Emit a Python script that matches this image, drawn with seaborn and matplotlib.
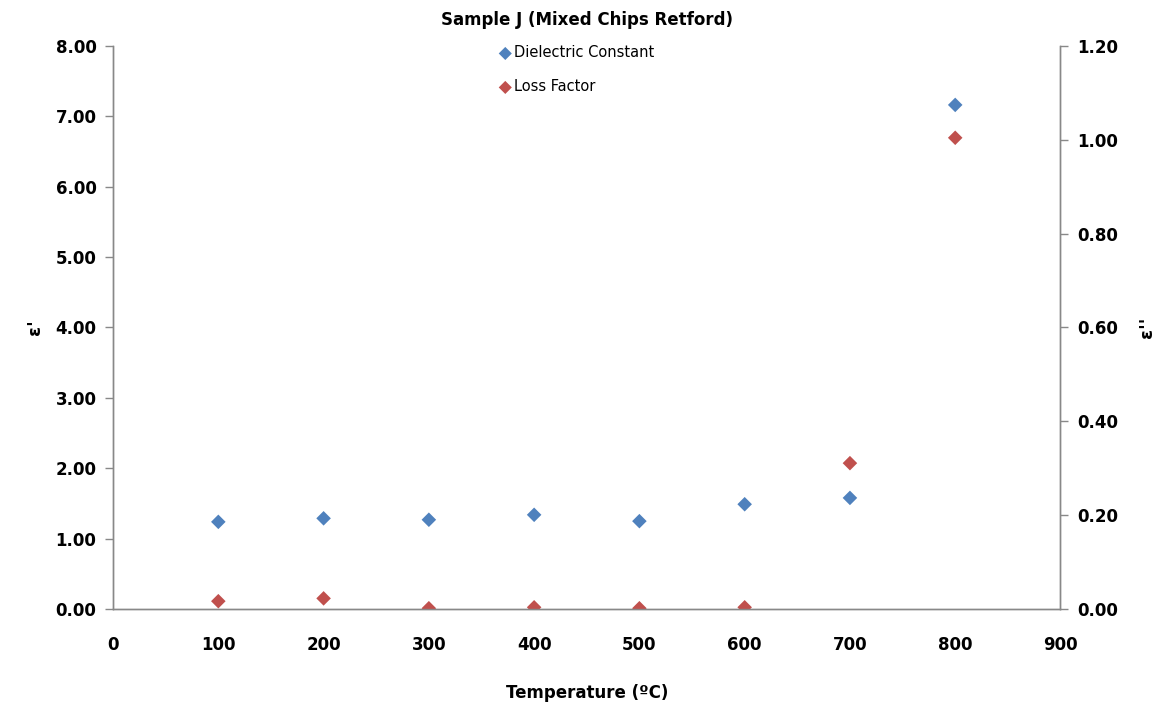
import numpy as np
import pandas as pd
import matplotlib
matplotlib.use("Agg")
import matplotlib.pyplot as plt
import seaborn as sns

temps = [100, 200, 300, 400, 500, 600, 700, 800]
dielectric = [1.24, 1.29, 1.27, 1.34, 1.25, 1.49, 1.58, 7.16]
loss = [0.017, 0.023, 0.002, 0.004, 0.002, 0.004, 0.311, 1.004]

blue = "#4F81BD"
red = "#C0504D"
grey = "#888888"

sns.set_style("white")
plt.rcParams['font.family'] = ['DejaVu Sans']
plt.rcParams['text.color'] = 'black'
plt.rcParams['axes.labelcolor'] = 'black'
plt.rcParams['xtick.color'] = 'black'
plt.rcParams['ytick.color'] = 'black'

df = pd.DataFrame({"temp": temps, "eps1": dielectric, "eps2": loss})

fig = plt.figure(figsize=(11.74, 7.15), dpi=100)
ax = fig.add_axes([0.0963, 0.148, 0.807, 0.788])
ax2 = ax.twinx()

sns.scatterplot(data=df, x="temp", y="eps1", ax=ax, marker="D", s=55,
                color=blue, edgecolor="none", label="Dielectric Constant", legend=False)
sns.scatterplot(data=df, x="temp", y="eps2", ax=ax2, marker="D", s=55,
                color=red, edgecolor="none", label="Loss Factor", legend=False)

ax.set_xlim(0, 900)
ax.set_ylim(0, 8)
ax2.set_ylim(0, 1.2)
ax.set_xticks(range(0, 901, 100))
ax.set_yticks(np.arange(0, 8.01, 1))
ax2.set_yticks(np.arange(0, 1.21, 0.2))
ax.set_yticklabels([f"{v:.2f}" for v in np.arange(0, 8.01, 1)])
ax2.set_yticklabels([f"{v:.2f}" for v in np.arange(0, 1.21, 0.2)])

for a in (ax, ax2):
    for side in ("left", "right", "bottom"):
        a.spines[side].set_color(grey)
        a.spines[side].set_linewidth(1)
    a.spines["top"].set_visible(False)
    a.tick_params(axis="both", direction="out", length=6, width=1, color=grey,
                  labelcolor="black", labelsize=12, pad=6)
    for lbl in a.get_xticklabels() + a.get_yticklabels():
        lbl.set_fontweight("bold")
ax.tick_params(axis="x", pad=13)

ax.set_xlabel("Temperature (ºC)", fontsize=12, fontweight="bold", labelpad=22)
ax.set_ylabel("ε'", fontsize=13, fontweight="bold", labelpad=8)
ax2.set_ylabel("ε''", fontsize=13, fontweight="bold", labelpad=14, rotation=90)
ax.set_title("Sample J (Mixed Chips Retford)", fontsize=12, fontweight="bold", pad=15)

h1, l1 = ax.get_legend_handles_labels()
h2, l2 = ax2.get_legend_handles_labels()
fig.legend(h1 + h2, l1 + l2, loc="upper left", bbox_to_anchor=(0.413, 0.955),
           frameon=False, fontsize=10.5, labelspacing=1.3, handletextpad=0.1,
           handlelength=1.0, markerscale=0.9)

fig.savefig("out.png", dpi=100)
